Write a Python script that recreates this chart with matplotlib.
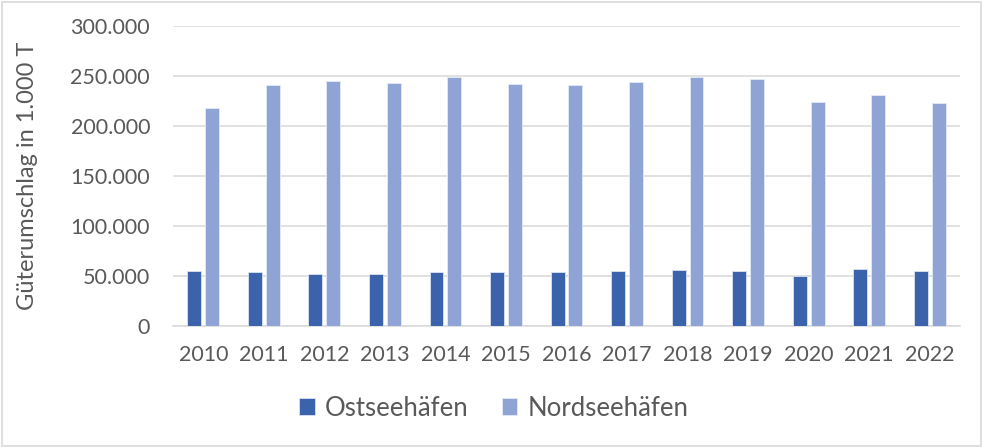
import matplotlib
matplotlib.use("Agg")
import matplotlib.pyplot as plt
import matplotlib.ticker as mticker
from matplotlib.patches import Rectangle
import numpy as np

# data (1.000 T)
years = ["2010", "2011", "2012", "2013", "2014", "2015", "2016",
         "2017", "2018", "2019", "2020", "2021", "2022"]
ostsee = [54700, 53300, 52000, 52000, 53300, 53300, 53300,
          54300, 55300, 54700, 50000, 56300, 54700]
nordsee = [218300, 241300, 245000, 243300, 249000, 241700, 241300,
           244000, 248700, 247000, 223700, 231000, 223000]

c_ost = "#3B63AC"
c_nord = "#8FA4D5"
grey_txt = "#595959"
grid_c = "#D9D9D9"

plt.rcParams['font.family'] = ['Lato', 'DejaVu Sans']

fig = plt.figure(figsize=(9.84, 4.47), dpi=100)
ax = fig.add_axes([0.1758, 0.2718, 0.7998, 0.67])

x = np.arange(len(years))
w = 0.23
off = 0.147
ax.bar(x - off, ostsee, w, color=c_ost, edgecolor="#DCE3F2", linewidth=0.6,
       label="Ostseehäfen", zorder=3)
ax.bar(x + off, nordsee, w, color=c_nord, edgecolor="#E3E9F5", linewidth=0.6,
       label="Nordseehäfen", zorder=3)

ax.set_xlim(-0.5, len(years) - 0.5)
ax.set_ylim(0, 300000)
ax.set_yticks(np.arange(0, 300001, 50000))
ax.yaxis.set_major_formatter(
    mticker.FuncFormatter(lambda v, p: f"{int(v):,}".replace(",", ".")))
ax.set_xticks(x)
ax.set_xticklabels(years)

ax.grid(axis="y", color=grid_c, linewidth=1.1, zorder=0)
for s in ["top", "right", "left"]:
    ax.spines[s].set_visible(False)
ax.spines["bottom"].set_color(grid_c)
ax.spines["bottom"].set_linewidth(1.1)
ax.tick_params(axis="both", length=0, labelsize=15.5, colors=grey_txt)
ax.tick_params(axis="x", pad=14)
ax.tick_params(axis="y", pad=16.5)

ax.set_ylabel("Güterumschlag in 1.000 T", fontsize=17, color=grey_txt)
ax.yaxis.set_label_coords(-0.172, 0.5)

leg = fig.legend(loc="center", bbox_to_anchor=(0.502, 0.087), ncol=2,
                 frameon=False, fontsize=18.5, handlelength=0.6,
                 handleheight=0.6, handletextpad=0.4, columnspacing=1.3)
for t in leg.get_texts():
    t.set_color(grey_txt)

fig.patches.append(Rectangle((0.002, 0.003), 0.995, 0.993,
                             transform=fig.transFigure, fill=False,
                             edgecolor=grid_c, linewidth=1.2))

fig.savefig("out.png", dpi=100)
